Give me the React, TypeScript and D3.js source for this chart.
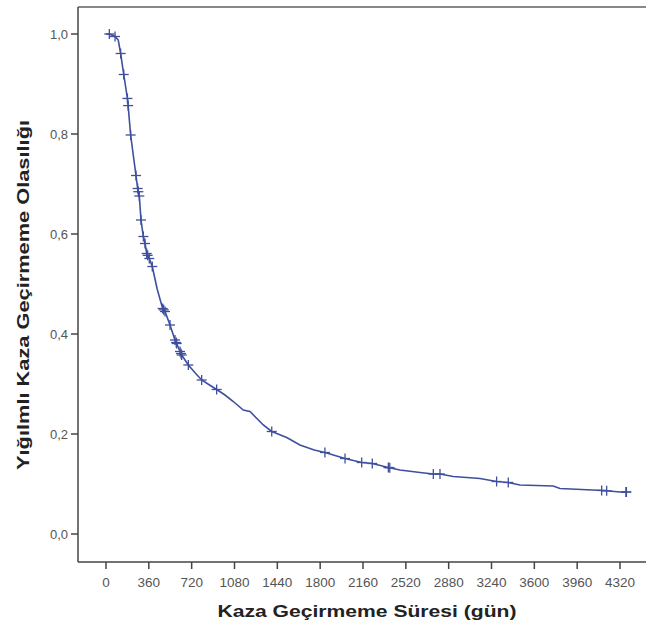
import React from "react";
import * as d3 from "d3";

const xTicks = [0, 360, 720, 1080, 1440, 1800, 2160, 2520, 2880, 3240, 3600, 3960, 4320];
const yTicks = [0, 0.2, 0.4, 0.6, 0.8, 1.0];

const curveT = [0, 28, 76, 103, 123, 149, 182, 207, 252, 266, 280, 294, 314, 328, 342, 364, 389, 430, 476, 496, 538, 580, 594, 622, 636, 692, 750, 804, 870, 930, 1000, 1070, 1154, 1210, 1322, 1393, 1519, 1630, 1750, 1840, 2009, 2149, 2238, 2373, 2470, 2639, 2751, 2807, 2919, 3143, 3283, 3381, 3479, 3759, 3815, 4179, 4320, 4370];
const curveS = [1.0, 1.0, 0.995, 0.988, 0.961, 0.919, 0.868, 0.798, 0.717, 0.691, 0.676, 0.628, 0.595, 0.581, 0.561, 0.551, 0.535, 0.49, 0.451, 0.445, 0.418, 0.388, 0.381, 0.365, 0.358, 0.338, 0.322, 0.308, 0.298, 0.289, 0.278, 0.265, 0.248, 0.245, 0.218, 0.205, 0.193, 0.178, 0.168, 0.163, 0.151, 0.143, 0.141, 0.133, 0.128, 0.123, 0.12, 0.12, 0.115, 0.111, 0.105, 0.103, 0.098, 0.096, 0.091, 0.087, 0.084, 0.084];

const censorT = [28, 76, 123, 149, 180, 186, 207, 252, 266, 272, 280, 294, 314, 328, 342, 350, 364, 389, 476, 485, 496, 538, 580, 590, 594, 622, 630, 636, 692, 804, 930, 1393, 1840, 2009, 2149, 2238, 2373, 2385, 2751, 2807, 3283, 3381, 4166, 4208, 4370, 4374];

const xTitle = "Kaza Geçirmeme Süresi (gün)";
const yTitle = "Yığılmlı Kaza Geçirmeme Olasılığı";

export default function App() {
  const W = 646, H = 628;
  const x = d3.scaleLinear().domain([0, 4320]).range([106, 620]);
  const y = d3.scaleLinear().domain([0, 1]).range([534, 34]);
  const pts: [number, number][] = curveT.map((t, i) => [t, curveS[i]]);
  const line = d3.line<[number, number]>().x(d => x(d[0])).y(d => y(d[1])).curve(d3.curveLinear);
  const interp = (t: number) => {
    for (let i = 1; i < curveT.length; i++) {
      if (t <= curveT[i]) {
        const a = curveT[i - 1], b = curveT[i];
        const f = b === a ? 0 : (t - a) / (b - a);
        return curveS[i - 1] + f * (curveS[i] - curveS[i - 1]);
      }
    }
    return curveS[curveS.length - 1];
  };
  const blue = "#3e4f9e";
  const left = 78, top = 7, bottom = 562;
  return (
    <div style={{ position: "absolute", left: 0, top: 0 }}>
      <svg width={W} height={H} style={{ display: "block", background: "#fff" }} fontFamily="'Liberation Sans', Arial, sans-serif">
        <line x1={left} y1={top} x2={W} y2={top} stroke="#888" strokeWidth={2} />
        <line x1={left} y1={top} x2={left} y2={bottom} stroke="#444" strokeWidth={1.5} />
        <line x1={left} y1={bottom} x2={W} y2={bottom} stroke="#444" strokeWidth={1.5} />
        {yTicks.map(v => (
          <g key={"y" + v}>
            <line x1={left - 7} x2={left} y1={y(v)} y2={y(v)} stroke="#444" strokeWidth={1.5} />
            <text x={68} y={y(v) + 4.5} textAnchor="end" fontSize={13} fill="#555">{v.toFixed(1).replace(".", ",")}</text>
          </g>
        ))}
        {xTicks.map(v => (
          <g key={"x" + v}>
            <line x1={x(v)} x2={x(v)} y1={bottom} y2={bottom + 7} stroke="#444" strokeWidth={1.5} />
            <text x={x(v)} y={587} textAnchor="middle" fontSize={13.5} fill="#555">{v}</text>
          </g>
        ))}
        <path d={line(pts) || ""} fill="none" stroke={blue} strokeWidth={1.6} />
        {censorT.map((t, i) => {
          const cx = x(t), cy = y(interp(t));
          return (
            <g key={"c" + i} stroke={blue} strokeWidth={1.3}>
              <line x1={cx - 5} x2={cx + 5} y1={cy} y2={cy} />
              <line x1={cx} x2={cx} y1={cy - 5} y2={cy + 5} />
            </g>
          );
        })}
        <text x={367} y={617} textAnchor="middle" fontSize={17} fontWeight="bold" fill="#222" textLength={299} lengthAdjust="spacingAndGlyphs">{xTitle}</text>
        <text transform={`translate(29,295) rotate(-90)`} textAnchor="middle" fontSize={16} fontWeight="bold" fill="#222" textLength={350} lengthAdjust="spacingAndGlyphs">{yTitle}</text>
      </svg>
    </div>
  );
}
